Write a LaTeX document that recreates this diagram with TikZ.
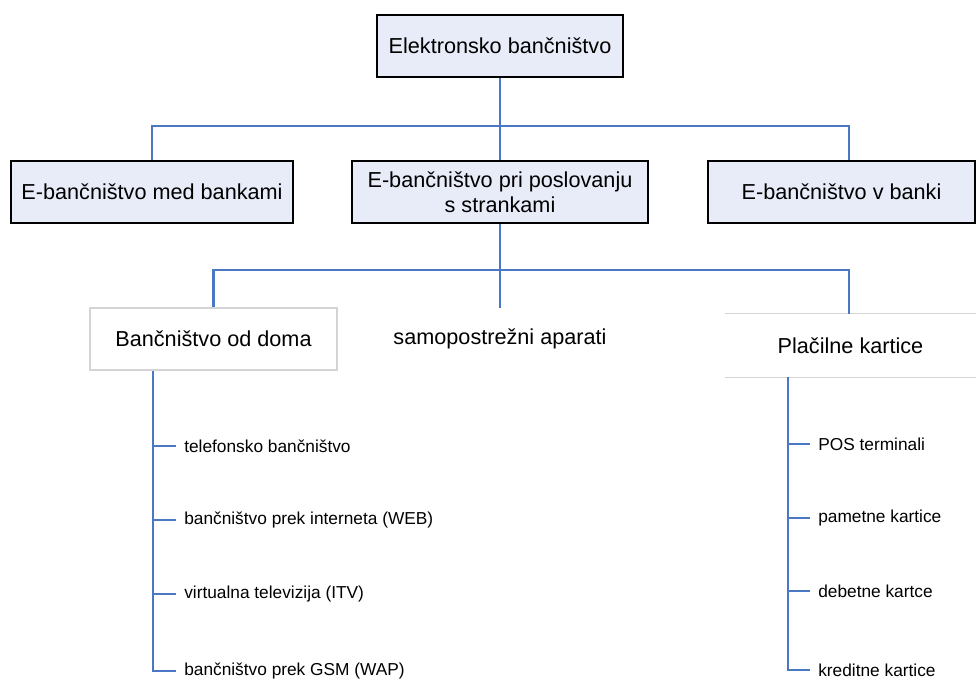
\documentclass[tikz,border=0pt]{standalone}
\usepackage{fontspec}
\setmainfont{Liberation Sans}
\usetikzlibrary{positioning}
\definecolor{colline}{RGB}{74,120,196}
\definecolor{colbox}{RGB}{232,236,248}
\definecolor{colgrey}{RGB}{212,212,212}

\begin{document}
\begin{tikzpicture} [x = 0.025cm, y = -0.025cm,
  bigbox/.style = {draw = black, line width = 2pt, fill = colbox, minimum height = 1.55cm, inner sep = 0pt, font = \fontsize{15.4}{17.8}\selectfont},
  subbox/.style = {minimum height = 1.55cm, inner sep = 0pt, font = \fontsize{15.4}{17.8}\selectfont},
  item/.style = {anchor = west, inner sep = 0.2cm, font = \fontsize{12.3}{14}\selectfont},
  bus/.style = {draw = colline, line width = 2.1pt}]
\useasboundingbox (0,0) rectangle (976,681);
\node (e0) [bigbox, minimum width = 6.15cm] at (500,46) {Elektronsko bančništvo};
\node (e1) [bigbox, minimum width = 7.05cm] at (152,192) {E-bančništvo med bankami};
\node (e2) [bigbox, minimum width = 7.4cm, align = center] at (500,192) {E-bančništvo pri poslovanju\\s strankami};
\node (e3) [bigbox, minimum width = 6.675cm] at (841.5,192) {E-bančništvo v banki};
\node (s1) [subbox, draw = colgrey, line width = 0.8pt, minimum width = 6.175cm] at (213.5,339) {Bančništvo od doma};
\node (s2) [subbox] at (500,339) {samopostrežni aparati};
\node (s3) [subbox, minimum width = 6.275cm, minimum height = 1.575cm] at (850.5,345.5) {Plačilne kartice};
\draw [colgrey, line width = 0.8pt] (s3.north west) -- (s3.north east) (s3.south west) -- (s3.south east);
\node (d1) [item] at (176,446) {telefonsko bančništvo};
\node (d2) [item] at (176,520) {bančništvo prek interneta (WEB)};
\node (d3) [item] at (176,594) {virtualna televizija (ITV)};
\node (d4) [item] at (176,671) {bančništvo prek GSM (WAP)};
\node (k1) [item] at (810,444) {POS terminali};
\node (k2) [item] at (810,518) {pametne kartice};
\node (k3) [item] at (810,591) {debetne kartce};
\node (k4) [item] at (810,670) {kreditne kartice};
\coordinate (b0) at (500,126);
\coordinate (b1) at (500,270);
\coordinate (l0) at ([xshift = -1.5125cm]s1.south);
\coordinate (r0) at ([xshift = -1.5625cm]s3.south);
\draw [bus] (e0.south) -- (b0) -| (e1.north);
\draw [bus] (b0) -| ([xshift = 0.1875cm]e3.north);
\draw [bus] (b0) -- (e2.north);
\draw [bus] (e2.south) -- (b1) -| (s1.north);
\draw [bus] (b1) -| ([xshift = -0.0375cm]s3.north);
\draw [bus] (b1) -- (s2.north);
\draw [bus] (l0) |- (d4.west);
\draw [bus] (r0) |- (k4.west);
\foreach \d in {d1, d2, d3}
  \draw [bus] (l0 |- \d.west) -- (\d.west);
\foreach \k in {k1, k2, k3}
  \draw [bus] (r0 |- \k.west) -- (\k.west);
\end{tikzpicture}
\end{document}
